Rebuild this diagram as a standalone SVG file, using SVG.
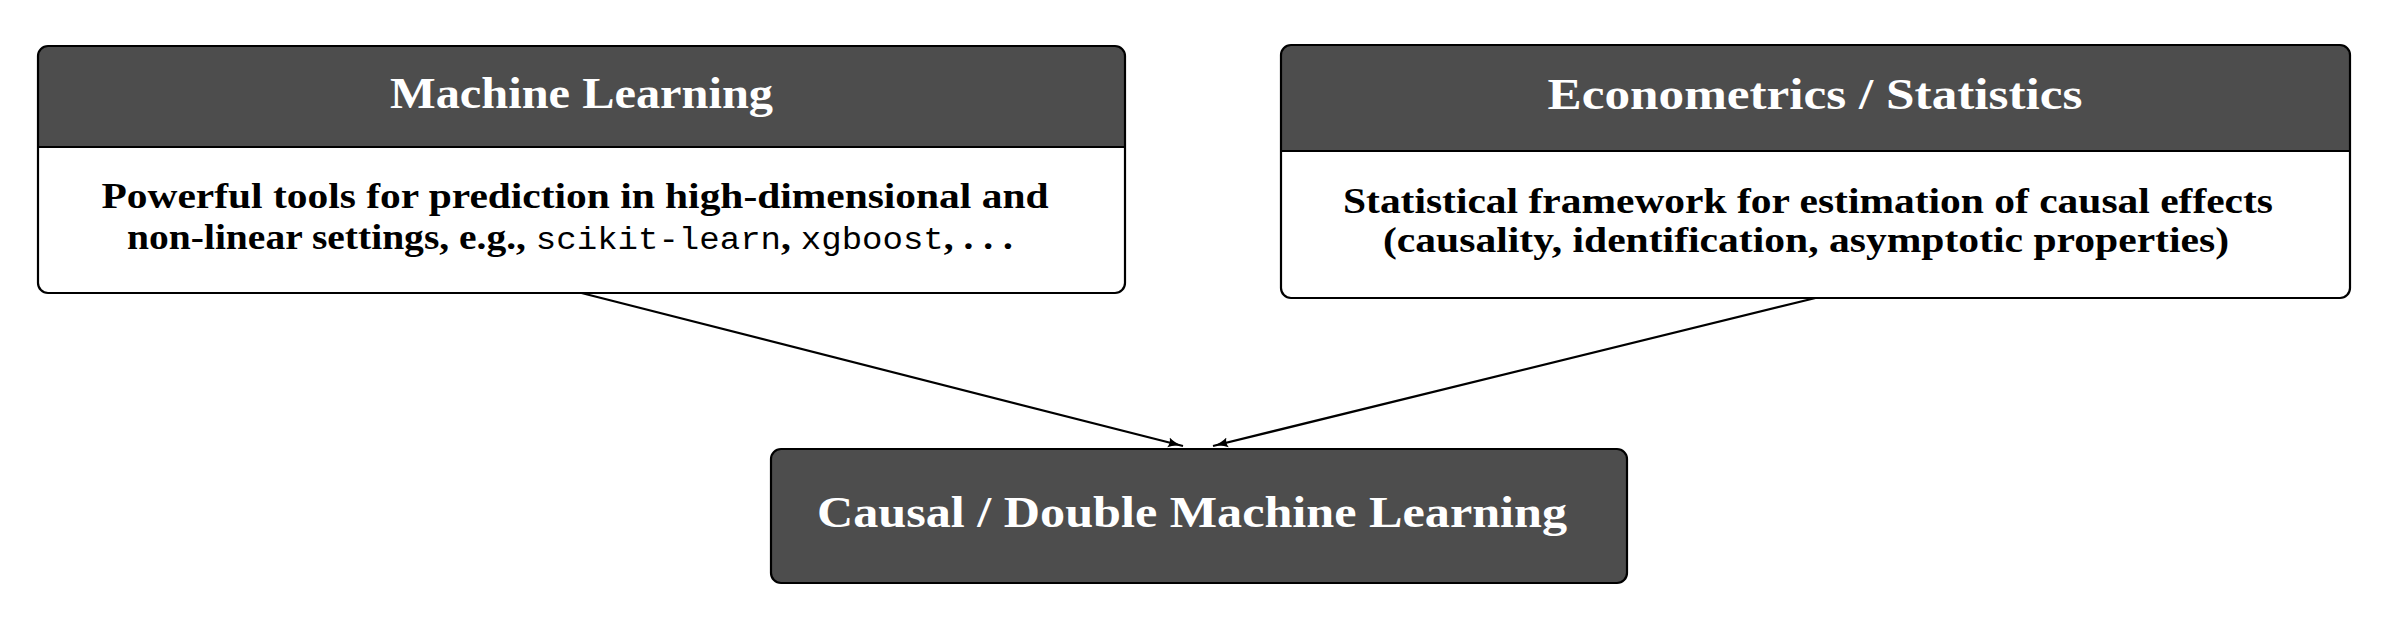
<svg xmlns="http://www.w3.org/2000/svg" width="2390" height="626" viewBox="0 0 2390 626">
<defs>
<style>
.bg{fill:#ffffff}
.hd{fill:#4d4d4d}
.ol{fill:none;stroke:#000;stroke-width:2.2}
.sep{stroke:#000;stroke-width:2.2}
.ttl{font-family:"Liberation Serif","Times New Roman",serif;font-weight:bold;fill:#fff;text-anchor:middle}
.body{font-family:"Liberation Serif","Times New Roman",serif;font-weight:bold;fill:#000;text-anchor:middle;font-size:36px}
.mono{font-family:"Liberation Mono","Courier New",monospace;font-weight:normal;font-size:31px}
.conn{stroke:#000;stroke-width:2.2;fill:none}
</style>
<marker id="arr" markerUnits="userSpaceOnUse" markerWidth="20" markerHeight="14" refX="15" refY="6" orient="auto">
<path d="M0,1 Q6,5 15,6 Q6,7 0,11 Q2.5,6 0,1 z" fill="#000"/>
</marker>
</defs>
<g id="connectors">
<line class="conn" x1="581.5" y1="293" x2="1183" y2="446" marker-end="url(#arr)"/>
<line class="conn" x1="1815.5" y1="298" x2="1213" y2="446" marker-end="url(#arr)"/>
</g>
<g id="ml">
<rect class="bg" x="38" y="46" width="1087" height="247" rx="10"/>
<path class="hd" d="M38,147 V56 A10,10 0 0 1 48,46 H1115 A10,10 0 0 1 1125,56 V147 Z"/>
<line class="sep" x1="38" y1="147" x2="1125" y2="147"/>
<rect class="ol" x="38" y="46" width="1087" height="247" rx="10"/>
<text class="ttl" x="581.5" y="108" font-size="44" textLength="383" lengthAdjust="spacingAndGlyphs">Machine Learning</text>
<text class="body" x="575" y="208" textLength="947" lengthAdjust="spacingAndGlyphs">Powerful tools for prediction in high-dimensional and</text>
<text class="body" x="570" y="249" textLength="886" lengthAdjust="spacingAndGlyphs">non-linear settings, e.g., <tspan class="mono">scikit-learn</tspan>, <tspan class="mono">xgboost</tspan>, . . .</text>
</g>
<g id="econ">
<rect class="bg" x="1281" y="45" width="1069" height="253" rx="10"/>
<path class="hd" d="M1281,151 V55 A10,10 0 0 1 1291,45 H2340 A10,10 0 0 1 2350,55 V151 Z"/>
<line class="sep" x1="1281" y1="151" x2="2350" y2="151"/>
<rect class="ol" x="1281" y="45" width="1069" height="253" rx="10"/>
<text class="ttl" x="1815" y="109" font-size="44" textLength="535" lengthAdjust="spacingAndGlyphs">Econometrics / Statistics</text>
<text class="body" x="1808" y="213" textLength="930" lengthAdjust="spacingAndGlyphs">Statistical framework for estimation of causal effects</text>
<text class="body" x="1806" y="252" textLength="846" lengthAdjust="spacingAndGlyphs">(causality, identification, asymptotic properties)</text>
</g>
<g id="dml">
<rect class="hd" x="771" y="449" width="856" height="134" rx="10"/>
<rect class="ol" x="771" y="449" width="856" height="134" rx="10"/>
<text class="ttl" x="1192" y="527" font-size="45" textLength="750" lengthAdjust="spacingAndGlyphs">Causal / Double Machine Learning</text>
</g>
</svg>
